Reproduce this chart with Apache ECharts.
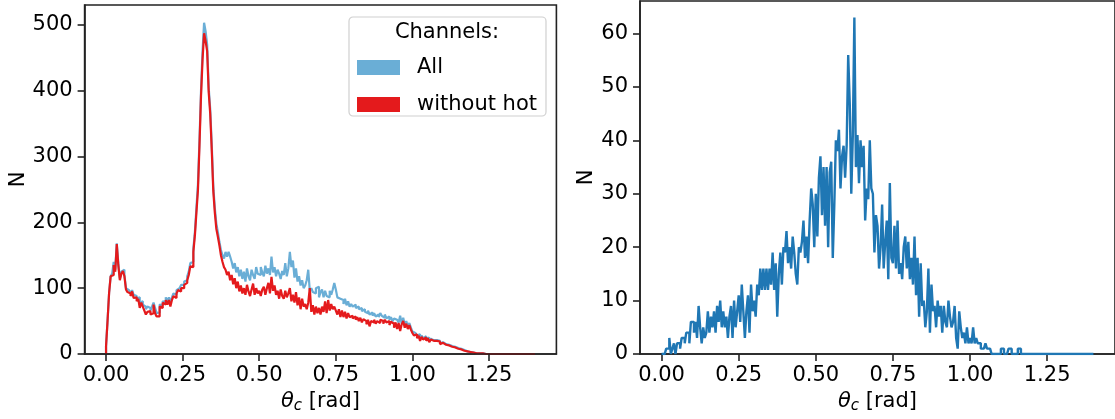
<!DOCTYPE html>
<html><head><meta charset="utf-8">
<script src="https://cdn.jsdelivr.net/npm/echarts@6/dist/echarts.min.js"></script>
<style>html,body{margin:0;padding:0;background:#fff}#c{width:1115px;height:419px}</style>
</head><body><div id="c"></div>
<script>
// ---- data (histograms, 0.005 rad bins from 0 to 1.4) ----
const BIN_WIDTH = 0.005;
const X_TICKS = [0, 0.25, 0.5, 0.75, 1.0, 1.25];
const LEFT_Y_TICKS = [0, 100, 200, 300, 400, 500];
const RIGHT_Y_TICKS = [0, 10, 20, 30, 40, 50, 60];
const LEGEND_TITLE = 'Channels:';
const SERIES_NAMES = ['All', 'without hot'];

const allChannels = [
  12,51,93,118,122,140,128,168,138,115,
  125,128,120,100,97,95,92,97,90,88,
  84,86,78,80,75,72,68,72,70,66,
  72,78,70,62,63,75,74,80,79,86,
  80,86,78,86,92,90,97,100,100,105,
  105,110,112,118,125,138,140,160,185,222,
  258,325,400,460,503,490,470,405,372,318,
  255,222,198,185,170,158,150,145,155,148,
  155,148,140,130,138,124,132,118,128,114,
  125,110,130,118,112,128,120,114,132,122,
  120,132,124,118,134,122,130,120,148,124,
  132,118,128,122,114,126,120,138,118,130,
  155,132,142,116,130,110,118,104,112,100,
  104,112,128,96,100,94,92,100,102,86,
  94,98,86,96,88,86,96,90,98,108,
  98,86,84,82,82,76,84,74,80,72,
  76,72,75,70,72,68,70,65,68,64,
  62,66,60,63,58,62,57,60,56,62,
  58,55,60,54,57,52,56,50,54,52,
  50,48,58,46,55,44,50,42,47,40,
  34,32,30,28,30,24,28,24,27,22,
  25,19,23,21,19,21,18,20,16,18,
  17,15,16,14,13,12,13,11,10,9,
  9,8,7,6,5,4,3,3,2,2,
  2,1,1,1,0,1,0,0,0,0,
  0,0,0,0,0,0,0,0,0,0,
  0,0,0,0,0,0,0,0,0,0,
  0,0,0,0,0,0,0,0,0,0
];
const withoutHot = [
  12,51,93,118,120,135,125,167,135,112,
  122,126,118,98,94,92,88,95,85,86,
  80,84,70,78,72,66,60,64,65,60,
  62,75,62,57,57,72,70,78,75,82,
  75,82,72,82,88,85,92,97,95,100,
  100,105,108,112,120,133,132,155,180,215,
  249,317,392,447,487,475,460,398,365,310,
  248,215,190,178,165,150,140,132,128,120,
  125,112,120,106,115,100,110,95,104,92,
  100,90,105,95,88,98,107,90,100,92,
  96,88,98,102,90,100,108,92,117,96,
  104,90,96,84,98,88,84,96,86,92,
  100,80,90,78,94,74,86,68,84,72,
  76,68,78,100,64,74,60,72,62,70,
  60,72,64,80,62,82,66,76,68,72,
  66,60,68,56,66,56,64,54,62,56,
  58,54,57,52,56,50,55,48,53,50,
  45,52,42,50,48,52,46,50,47,52,
  50,46,52,48,50,44,49,46,40,48,
  38,47,35,45,50,40,46,38,44,37,
  32,28,30,24,28,20,26,22,25,20,
  24,18,22,20,18,20,17,19,15,17,
  16,14,15,13,12,11,12,10,9,8,
  8,7,6,5,5,4,3,3,2,2,
  2,1,1,1,0,1,0,0,0,0,
  0,0,0,0,0,0,0,0,0,0,
  0,0,0,0,0,0,0,0,0,0,
  0,0,0,0,0,0,0,0,0,0
];
const rightCounts = [
  0,0,0,1,1,3,0,1,2,0,
  2,2,1,3,3,2,4,4,2,6,
  6,4,6,3,9,5,2,5,3,4,
  8,4,7,5,8,4,9,6,10,5,
  8,5,7,3,7,9,3,10,5,8,
  11,6,13,8,3,8,11,4,13,8,
  10,7,13,11,16,12,16,12,16,12,
  16,13,19,12,17,7,15,19,13,20,
  19,23,17,20,16,22,19,15,13,20,
  19,21,25,18,22,17,25,31,28,20,
  30,22,33,37,26,35,24,35,20,34,
  36,18,28,40,38,42,31,37,39,33,
  39,56,47,30,41,63,35,41,32,40,
  35,39,25,31,29,40,31,30,19,26,
  24,16,20,28,16,21,25,14,32,18,
  17,24,16,25,15,17,14,20,22,16,
  21,14,18,13,22,11,18,7,17,9,
  10,5,8,16,4,13,8,9,5,10,
  7,9,4,9,6,5,10,7,5,6,
  9,3,1,8,5,3,4,2,5,2,
  3,2,5,2,3,2,2,1,1,1,
  2,1,1,1,0,0,0,0,0,0,
  1,1,0,0,0,1,1,0,0,0,
  0,1,1,0,0,0,0,0,0,0,
  0,0,0,0,0,0,0,0,0,0,
  0,0,0,0,0,0,0,0,0,0,
  0,0,0,0,0,0,0,0,0,0,
  0,0,0,0,0,0,0,0,0,0
];

// ---- build step outlines (matplotlib histtype='step') ----
function stepData(vals) {
  const pts = [[0, 0]];
  vals.forEach((v, i) => pts.push([i * BIN_WIDTH, v]));
  pts.push([vals.length * BIN_WIDTH, 0]);
  return pts;
}

const FONT = 'DejaVu Sans';
const FS = 21;
const SPINE = '#222';
const BLUE_LIGHT = '#6aaed6';
const RED = '#e41a1c';
const BLUE = '#1f77b4';

function xAxisCfg(gridIndex, z) {
  return {
    type: 'value', gridIndex: gridIndex, min: -0.07, max: 1.47, z: z,
    splitLine: { show: false },
    axisLine: { show: true, onZero: false, lineStyle: { color: SPINE, width: 1.6 } },
    axisTick: { show: true, length: 7, lineStyle: { color: SPINE, width: 1.6 }, customValues: X_TICKS },
    axisLabel: { customValues: X_TICKS, margin: 11, fontFamily: FONT, fontSize: FS, color: '#000',
      formatter: v => v.toFixed(2) },
    name: '{th|θ}{sub|c}{txt| [rad]}', nameLocation: 'middle', nameGap: 35,
    nameTextStyle: { fontFamily: FONT, fontSize: FS, color: '#000',
      rich: {
        th: { fontFamily: FONT, fontSize: FS, fontStyle: 'italic', color: '#000' },
        sub: { fontFamily: FONT, fontSize: 15, fontStyle: 'italic', color: '#000', padding: [10, 0, 0, 0] },
        txt: { fontFamily: FONT, fontSize: FS, color: '#000' }
      } }
  };
}
function yAxisCfg(gridIndex, max, ticks, nameGap) {
  return {
    type: 'value', gridIndex: gridIndex, min: 0, max: max,
    splitLine: { show: false },
    axisLine: { show: true, onZero: false, lineStyle: { color: SPINE, width: 1.6 } },
    axisTick: { show: true, length: 7, lineStyle: { color: SPINE, width: 1.6 }, customValues: ticks },
    axisLabel: { customValues: ticks, margin: 12, fontFamily: FONT, fontSize: FS, color: '#000' },
    name: 'N', nameLocation: 'middle', nameGap: nameGap, nameRotate: 90,
    nameTextStyle: { fontFamily: FONT, fontSize: FS, color: '#000' }
  };
}

const chart = echarts.init(document.getElementById('c'), null, { renderer: 'canvas' });
chart.setOption({
  animation: false,
  backgroundColor: '#fff',
  grid: [
    { left: 84.6, right: 558.6, top: 5, bottom: 61, show: true, borderColor: SPINE, borderWidth: 1.6, backgroundColor: 'transparent' },
    { left: 640, right: -9, top: 1, bottom: 57.5, show: true, borderColor: SPINE, borderWidth: 1.6, backgroundColor: 'transparent' }
  ],
  xAxis: [xAxisCfg(0, 5), xAxisCfg(1, 0)],
  yAxis: [yAxisCfg(0, 530, LEFT_Y_TICKS, 56), yAxisCfg(1, 66.1, RIGHT_Y_TICKS, 42)],
  legend: {
    data: SERIES_NAMES, orient: 'vertical', left: 357, top: 57, padding: 0,
    itemWidth: 43, itemHeight: 15, itemGap: 16, icon: 'rect',
    textStyle: { fontFamily: FONT, fontSize: FS, color: '#000', lineHeight: 15, padding: [0, 0, 0, 12] }
  },
  graphic: [
    { type: 'rect', x: 349, y: 17, z: 1,
      shape: { x: 0, y: 0, width: 197, height: 99, r: 4 },
      style: { fill: 'rgba(255,255,255,0.8)', stroke: '#d0d0d0', lineWidth: 1.2 } },
    { type: 'text', x: 447, y: 33, z: 2,
      style: { text: LEGEND_TITLE, fontFamily: FONT, fontSize: FS, fill: '#000',
        textAlign: 'center', textVerticalAlign: 'middle' } }
  ],
  series: [
    { name: SERIES_NAMES[0], type: 'line', xAxisIndex: 0, yAxisIndex: 0, step: 'end', showSymbol: false,
      data: stepData(allChannels), color: BLUE_LIGHT, lineStyle: { color: BLUE_LIGHT, width: 2.2 }, z: 2 },
    { name: SERIES_NAMES[1], type: 'line', xAxisIndex: 0, yAxisIndex: 0, step: 'end', showSymbol: false,
      data: stepData(withoutHot), color: RED, lineStyle: { color: RED, width: 2.2 }, z: 3 },
    { name: 'right', type: 'line', xAxisIndex: 1, yAxisIndex: 1, step: 'end', showSymbol: false,
      data: stepData(rightCounts), color: BLUE, lineStyle: { color: BLUE, width: 2.4 }, z: 2 }
  ]
});
</script></body></html>
